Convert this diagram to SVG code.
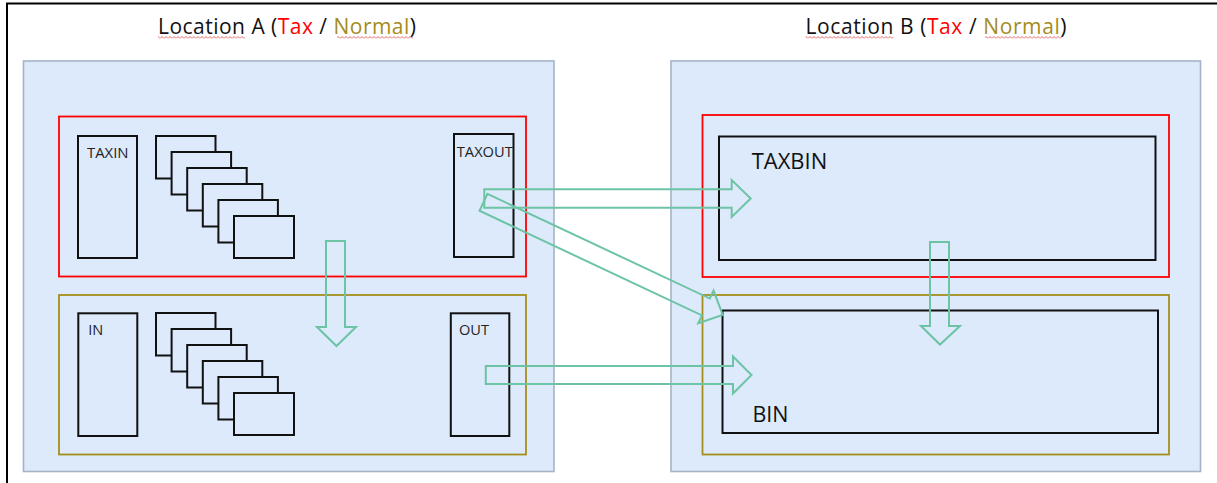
<svg xmlns="http://www.w3.org/2000/svg" width="1217" height="483" viewBox="0 0 1217 483">
<style>
  .frame{fill:none;stroke:#000;stroke-width:2}
  .loc{fill:#DCEAFC;stroke:#A4B4C6;stroke-width:1.6}
  .tax{fill:none;stroke:#FF0000;stroke-width:1.8}
  .norm{fill:none;stroke:#A68F1A;stroke-width:1.8}
  .box{fill:none;stroke:#111;stroke-width:2}
  .stk{fill:#DCEAFC;stroke:#111;stroke-width:2}
  .arr{fill:none;stroke:#6CC4A4;stroke-width:2;stroke-linejoin:miter}
  .title{font-family:"Open Sans","Noto Sans","DejaVu Sans",sans-serif;font-size:21px;fill:#111}
  .red{fill:#FF0000}
  .olv{fill:#A38C1C}
  .small{font-family:"Open Sans","Noto Sans","DejaVu Sans",sans-serif;font-size:15px;fill:#222}
  .big{font-family:"Open Sans","Noto Sans","DejaVu Sans",sans-serif;font-size:21px;fill:#111}
</style>
<defs>
  <pattern id="sq" width="4" height="3" patternUnits="userSpaceOnUse">
    <path d="M0,2.5 L2,0.5 L4,2.5" fill="none" stroke="#E04040" stroke-width="0.8"/>
  </pattern>
</defs>
<rect width="1217" height="483" fill="#fff"/>
<path class="frame" d="M7,483 V3.5 H1217"/>

<g id="locationA">
  <rect class="loc" x="23.5" y="61" width="530.5" height="410.5"/>
  <text class="title" x="158" y="34.3" textLength="258" lengthAdjust="spacing">Location A (<tspan class="red">Tax</tspan> / <tspan class="olv">Normal</tspan>)</text>
  <rect x="158" y="36" width="87" height="3" fill="url(#sq)"/>
  <rect x="337" y="36" width="76" height="3" fill="url(#sq)"/>
</g>
<g id="taxA">
  <rect class="tax" x="59" y="116.5" width="467" height="160"/>
</g>
<g id="normalA">
  <rect class="norm" x="59" y="295" width="467" height="159.5"/>
</g>
<g id="taxin">
  <rect class="box" x="78" y="136" width="59" height="122"/>
  <text class="small" x="87" y="157.5" textLength="41.5" lengthAdjust="spacingAndGlyphs">TAXIN</text>
</g>
<g id="taxstack">
  <rect class="stk" x="156" y="136" width="59.5" height="42.5"/>
  <rect class="stk" x="171.6" y="152" width="59.5" height="42.5"/>
  <rect class="stk" x="187.2" y="168" width="59.5" height="42.5"/>
  <rect class="stk" x="202.8" y="184" width="59.5" height="42.5"/>
  <rect class="stk" x="218.4" y="200" width="59.5" height="42.5"/>
  <rect class="stk" x="234" y="216" width="60" height="42"/>
</g>
<g id="taxout">
  <rect class="box" x="454" y="134" width="59.5" height="123"/>
  <text class="small" x="456.8" y="157" textLength="56" lengthAdjust="spacingAndGlyphs">TAXOUT</text>
</g>
<g id="in">
  <rect class="box" x="78.3" y="313.3" width="59" height="122.7"/>
  <text class="small" x="88.3" y="335.2" textLength="15" lengthAdjust="spacingAndGlyphs">IN</text>
</g>
<g id="stack">
  <rect class="stk" x="156" y="313" width="59.5" height="42.5"/>
  <rect class="stk" x="171.6" y="329" width="59.5" height="42.5"/>
  <rect class="stk" x="187.2" y="345" width="59.5" height="42.5"/>
  <rect class="stk" x="202.8" y="361" width="59.5" height="42.5"/>
  <rect class="stk" x="218.4" y="377" width="59.5" height="42.5"/>
  <rect class="stk" x="234" y="393" width="60" height="42"/>
</g>
<g id="out">
  <rect class="box" x="450.8" y="313.3" width="58.5" height="122.7"/>
  <text class="small" x="459" y="335.3" textLength="30" lengthAdjust="spacingAndGlyphs">OUT</text>
</g>

<g id="locationB">
  <rect class="loc" x="671" y="61" width="529.5" height="410.5"/>
  <text class="title" x="805.5" y="34.3" textLength="261" lengthAdjust="spacing">Location B (<tspan class="red">Tax</tspan> / <tspan class="olv">Normal</tspan>)</text>
  <rect x="805.5" y="36" width="88" height="3" fill="url(#sq)"/>
  <rect x="985" y="36" width="77" height="3" fill="url(#sq)"/>
</g>
<g id="taxB">
  <rect class="tax" x="702.5" y="115" width="466.5" height="162"/>
</g>
<g id="normalB">
  <rect class="norm" x="702.5" y="295" width="466.5" height="159.5"/>
</g>
<g id="taxbin">
  <rect class="box" x="719" y="136.5" width="436.5" height="123.5"/>
  <text class="big" x="751.7" y="169" textLength="75.5" lengthAdjust="spacingAndGlyphs">TAXBIN</text>
</g>
<g id="bin">
  <rect class="box" x="722.5" y="310.5" width="435.5" height="122.5"/>
  <text class="big" x="752.5" y="422" textLength="36" lengthAdjust="spacingAndGlyphs">BIN</text>
</g>

<g id="connectors">
  <polygon class="arr" points="484.3,189.3 731.7,189.3 731.7,180 750.7,198.5 731.7,217 731.7,207.7 484.3,207.7"/>
  <polygon class="arr" points="485.8,366 733,366 733,356.5 751.5,375 733,393.5 733,384 485.8,384"/>
  <polygon class="arr" transform="translate(483.5,202.3) rotate(25.2)" points="0,-9.3 245.8,-9.3 245.8,-18 264.4,0 245.8,18 245.8,9.3 0,9.3"/>
  <polygon class="arr" points="326,241 345,241 345,327 356,327 336.5,346 317,327 326,327"/>
  <polygon class="arr" points="930,242 949,242 949,326 960,326 940,344.5 921,326 930,326"/>
</g>
</svg>
